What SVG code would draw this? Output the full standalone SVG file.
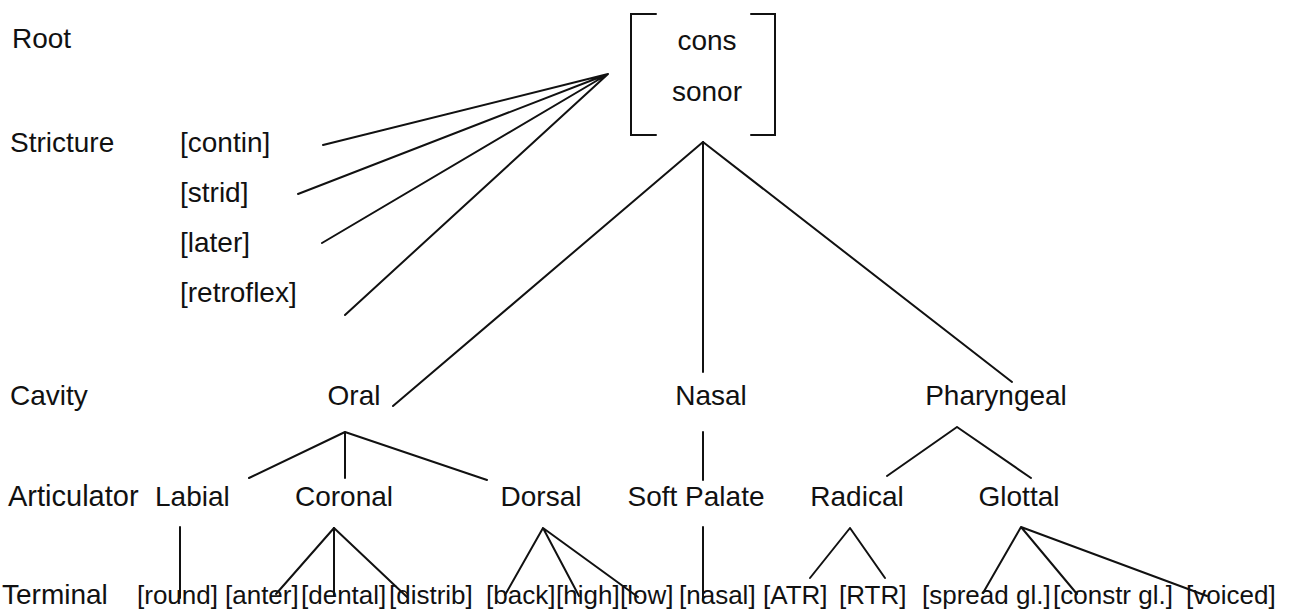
<svg xmlns="http://www.w3.org/2000/svg" width="1296" height="615" viewBox="0 0 1296 615">
  <style>
    text { font-family: "Liberation Sans", Arial, sans-serif; fill: #111; }
    .lv { font-size: 28px; }
    .nd { font-size: 28px; }
    .tm { font-size: 26px; }
    .mid { text-anchor: middle; }
    .ln { stroke: #111; stroke-width: 2; fill: none; stroke-linecap: round; }
  </style>
  <rect width="1296" height="615" fill="#fff"/>

  <!-- tier labels -->
  <g id="tier-labels">
    <text class="lv" x="12" y="48">Root</text>
    <text class="lv" x="10" y="152">Stricture</text>
    <text class="lv" x="10" y="405">Cavity</text>
    <text class="lv" x="8" y="506" style="font-size:29px">Articulator</text>
    <text class="lv" x="2" y="604">Terminal</text>
  </g>

  <!-- root node: bracketed feature matrix -->
  <g id="root">
    <path class="ln" d="M656,14 H631 V135 H656 M751,14 H775 V135 H751"/>
    <text class="nd mid" x="707" y="50">cons</text>
    <text class="nd mid" x="707" y="101">sonor</text>
  </g>

  <!-- stricture features -->
  <g id="contin"><text class="nd" x="180" y="152">[contin]</text></g>
  <g id="strid"><text class="nd" x="180" y="202">[strid]</text></g>
  <g id="later"><text class="nd" x="180" y="252">[later]</text></g>
  <g id="retroflex"><text class="nd" x="180" y="302">[retroflex]</text></g>

  <!-- cavity nodes -->
  <g id="oral"><text class="nd mid" x="354" y="405">Oral</text></g>
  <g id="nasal"><text class="nd mid" x="711" y="405">Nasal</text></g>
  <g id="pharyngeal"><text class="nd mid" x="996" y="405">Pharyngeal</text></g>

  <!-- articulator nodes -->
  <g id="labial"><text class="nd" x="155" y="506">Labial</text></g>
  <g id="coronal"><text class="nd mid" x="344" y="506">Coronal</text></g>
  <g id="dorsal"><text class="nd mid" x="541" y="506">Dorsal</text></g>
  <g id="soft-palate"><text class="nd mid" x="696" y="506">Soft Palate</text></g>
  <g id="radical"><text class="nd mid" x="857" y="506">Radical</text></g>
  <g id="glottal"><text class="nd mid" x="1019" y="506">Glottal</text></g>

  <!-- terminal features -->
  <g id="round"><text class="tm" x="137" y="604">[round]</text></g>
  <g id="anter"><text class="tm" x="225" y="604">[anter]</text></g>
  <g id="dental"><text class="tm" x="301" y="604">[dental]</text></g>
  <g id="distrib"><text class="tm" x="389" y="604">[distrib]</text></g>
  <g id="back"><text class="tm" x="486" y="604">[back]</text></g>
  <g id="high"><text class="tm" x="556" y="604">[high]</text></g>
  <g id="low"><text class="tm" x="620" y="604">[low]</text></g>
  <g id="nasal-f"><text class="tm" x="679" y="604">[nasal]</text></g>
  <g id="atr"><text class="tm" x="763" y="604">[ATR]</text></g>
  <g id="rtr"><text class="tm" x="839" y="604">[RTR]</text></g>
  <g id="spread"><text class="tm" x="922" y="604">[spread gl.]</text></g>
  <g id="constr"><text class="tm" x="1053" y="604">[constr gl.]</text></g>
  <g id="voiced"><text class="tm" x="1186" y="604">[voiced]</text></g>

  <!-- association lines -->
  <g id="connectors">
    <!-- stricture fan into the root -->
    <path class="ln" d="M608,74 L323,145 M608,74 L298,194 M608,74 L322,243 M608,74 L345,315"/>
    <!-- root to cavities -->
    <path class="ln" d="M703,142 L393,406 M703,142 V372 M703,142 L1012,382"/>
    <!-- cavities to articulators -->
    <path class="ln" d="M345,432 L249,478 M345,432 V478 M345,432 L487,480"/>
    <path class="ln" d="M703,432 V480"/>
    <path class="ln" d="M957,427 L887,476 M957,427 L1031,478"/>
    <!-- articulators to terminal features -->
    <path class="ln" d="M180,527 V598"/>
    <path class="ln" d="M334,528 L276,594 M334,528 V596 M334,528 L407,597"/>
    <path class="ln" d="M543,528 L505,595 M543,528 L579,596 M543,528 L638,597"/>
    <path class="ln" d="M703,527 V600"/>
    <path class="ln" d="M850,528 L810,578 M850,528 L885,578"/>
    <path class="ln" d="M1021,527 L983,593 M1021,527 L1077,594 M1021,527 L1207,596"/>
  </g>
</svg>
